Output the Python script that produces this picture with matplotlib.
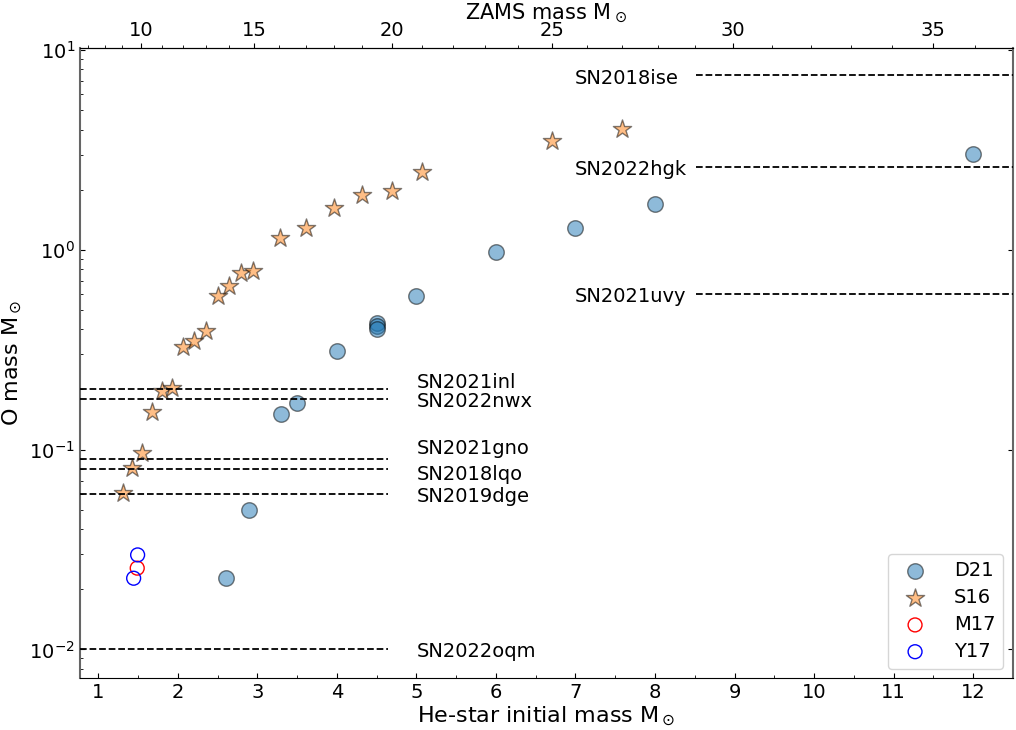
import numpy as np
import matplotlib
matplotlib.use("Agg")
import matplotlib.pyplot as plt
from matplotlib.ticker import MultipleLocator

# ---- data ----
d21_he = [2.60, 2.90, 3.30, 3.50, 4.00, 4.50, 4.50, 4.50, 5.00, 6.00, 7.00, 8.00, 12.00]
d21_o = [0.0227, 0.050, 0.151, 0.171, 0.310, 0.430, 0.415, 0.400, 0.59, 0.97, 1.28, 1.70, 3.01]

s16_he = [1.31, 1.42, 1.545, 1.67, 1.80, 1.93, 2.07, 2.20, 2.35, 2.50, 2.65, 2.80, 2.95,
          3.28, 3.61, 3.96, 4.32, 4.69, 5.07, 6.70, 7.58]
s16_o = [0.0605, 0.0813, 0.0967, 0.155, 0.197, 0.203, 0.328, 0.348, 0.393, 0.589, 0.661,
         0.764, 0.779, 1.144, 1.284, 1.617, 1.884, 1.973, 2.466, 3.51, 4.02]

m17_he = [1.49]
m17_o = [0.0255]

y17_he = [1.495, 1.445]
y17_o = [0.0297, 0.0227]

sn_low_names = ["SN2021inl", "SN2022nwx", "SN2021gno", "SN2018lqo", "SN2019dge", "SN2022oqm"]
sn_low_o = [0.20, 0.18, 0.09, 0.08, 0.06, 0.01]
sn_low_text_y = [0.216, 0.174, 0.1017, 0.0748, 0.0582, 0.00973]

sn_high_names = ["SN2018ise", "SN2022hgk", "SN2021uvy"]
sn_high_o = [7.5, 2.6, 0.6]
sn_high_text_y = [7.23, 2.51, 0.584]

# He-star / ZAMS relation (Woosley 2019)
A_COEF, B_EXP = 0.0385, 1.603


def he2zams(m):
    m = np.asarray(m, dtype=float)
    with np.errstate(invalid="ignore", divide="ignore"):
        return np.where(m > 0, (np.abs(m) / A_COEF) ** (1.0 / B_EXP), np.nan)


def zams2he(m):
    m = np.asarray(m, dtype=float)
    with np.errstate(invalid="ignore", divide="ignore"):
        return np.where(m > 0, A_COEF * np.abs(m) ** B_EXP, np.nan)


fig = plt.figure(figsize=(10.16, 7.30), dpi=100)
ax = fig.add_axes([0.0787, 0.0708, 0.9183, 0.8639])

ax.set_xlim(0.77, 12.5)
ax.set_yscale("log")
ax.set_ylim(10 ** -2.145, 10 ** 1.012)

ax.scatter(d21_he, d21_o, s=125, color="tab:blue", alpha=0.5, edgecolors="k",
           linewidths=1.0, label="D21", zorder=3)
ax.scatter(s16_he, s16_o, s=190, marker="*", color="tab:orange", alpha=0.5,
           edgecolors="k", linewidths=1.0, label="S16", zorder=3)
ax.scatter(m17_he, m17_o, s=100, facecolors="none", edgecolors="red",
           linewidths=1.0, label="M17", zorder=3)
ax.scatter(y17_he, y17_o, s=100, facecolors="none", edgecolors="blue",
           linewidths=1.0, label="Y17", zorder=3)

ax.hlines(sn_low_o, 0.77, 4.64, colors="k", linestyles="--", linewidth=1.3, zorder=4)
for name, ty in zip(sn_low_names, sn_low_text_y):
    ax.text(5.0, ty, name, fontsize=14, va="center", ha="left")

ax.hlines(sn_high_o, 8.52, 12.5, colors="k", linestyles="--", linewidth=1.3, zorder=4)
for name, ty in zip(sn_high_names, sn_high_text_y):
    ax.text(6.99, ty, name, fontsize=14, va="center", ha="left")

ax.set_xlabel(r"He-star initial mass M$_\odot$", fontsize=16, labelpad=2)
ax.set_ylabel(r"O mass M$_\odot$", fontsize=16, labelpad=4)

ax.xaxis.set_major_locator(MultipleLocator(1))
ax.xaxis.set_minor_locator(MultipleLocator(0.5))
ax.tick_params(axis="both", which="both", direction="in", labelsize=14, top=False)
ax.tick_params(axis="y", which="major", right=True)
ax.tick_params(axis="y", which="minor", right=False)

for side in ("left", "right"):
    ax.spines[side].set_color("0.4")
    ax.spines[side].set_linewidth(1.5)

sec = ax.secondary_xaxis("top", functions=(he2zams, zams2he))
sec.xaxis.set_major_locator(MultipleLocator(5))
sec.xaxis.set_minor_locator(MultipleLocator(1))
sec.tick_params(axis="x", which="both", direction="out", labelsize=14, pad=2)
sec.set_xlabel(r"ZAMS mass M$_\odot$", fontsize=15, labelpad=1)

ax.legend(loc="lower right", fontsize=14, scatterpoints=1, labelspacing=0.4,
          handletextpad=1.0)

fig.savefig("out.png", dpi=100)
